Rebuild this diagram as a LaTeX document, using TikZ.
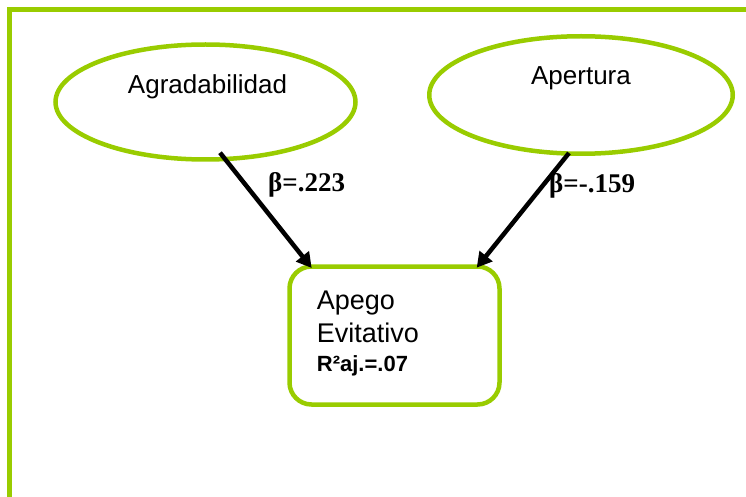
\documentclass[tikz,border=0pt]{standalone}
\usepackage{fontspec}
\setmainfont{Liberation Sans}
\newfontfamily\serifb{Liberation Serif}
\usetikzlibrary{shapes.geometric,arrows.meta,calc}
\definecolor{lgreen}{RGB}{153,204,0}
\begin{document}
\begin{tikzpicture}[x=1pt,y=-1pt,
  greenline/.style={draw=lgreen,line width=4.5pt},
  ell/.style={greenline,ellipse,inner sep=0pt},
  lbl/.style={font=\fontsize{26}{30}\selectfont,anchor=base,inner sep=0pt},
  beta/.style={font=\serifb\bfseries\fontsize{27}{30}\selectfont,anchor=base west,inner sep=0pt},
  boxtxt/.style={font=\fontsize{27}{30}\selectfont,anchor=base west,inner sep=0pt},
  arr/.style={line width=4.5pt,-{Triangle[length=15pt,width=16pt]}}]
\useasboundingbox (0,0) rectangle (746,497);
\draw[greenline] (9.5,510) -- (9.5,9.5) -- (760,9.5);
\node[ell,minimum width=300pt,minimum height=115pt] (e1) at (205.5,102) {};
\node[ell,minimum width=303.5pt,minimum height=117.5pt] (e2) at (581,95) {};
\node[lbl] (t1) at (207.5,94) {Agradabilidad};
\node[lbl] (t2) at (581,85) {Apertura};
\node[greenline,rounded corners=22pt,minimum width=210pt,minimum height=138pt,inner sep=0pt] (box) at (394.5,335.5) {};
\node[boxtxt] (b1) at (316.7,309) {Apego};
\node[boxtxt] (b2) at (316.7,342.7) {Evitativo};
\node[boxtxt,font=\bfseries\fontsize{22}{25}\selectfont] (b3) at (316.7,371.7) {R²aj.=.07};
\draw[arr] ([shift={(14.5,50.7)}]e1.center) -- ([shift={(-82.8,-67.5)}]box.center);
\draw[arr] ([shift={(-12,58)}]e2.center) -- ([shift={(82.2,-67.8)}]box.center);
\node[beta] (l1) at (268,191.7) {β=.223};
\node[beta] (l2) at (549,192) {β=-.159};
\end{tikzpicture}
\end{document}
